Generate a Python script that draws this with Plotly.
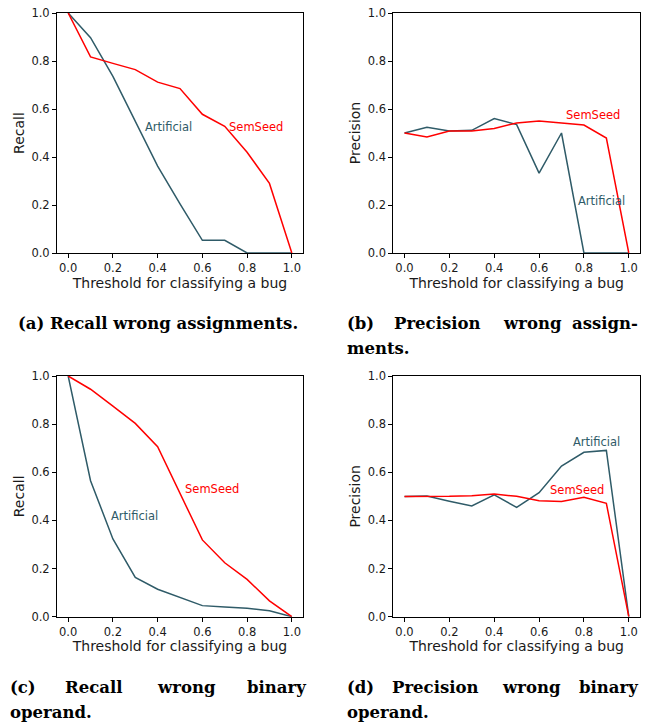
import plotly.graph_objects as go

thresholds = [0.0, 0.1, 0.2, 0.3, 0.4, 0.5, 0.6, 0.7, 0.8, 0.9, 1.0]

# (a) Recall wrong assignments
recall_assign_semseed = [1.0, 0.817, 0.790, 0.764, 0.712, 0.685, 0.578, 0.528, 0.420, 0.290, 0.0]
recall_assign_artificial = [1.0, 0.897, 0.736, 0.546, 0.362, 0.205, 0.053, 0.053, 0.0, 0.0, 0.0]

# (b) Precision wrong assignments
prec_assign_semseed = [0.500, 0.483, 0.508, 0.508, 0.519, 0.542, 0.550, 0.542, 0.533, 0.479, 0.0]
prec_assign_artificial = [0.500, 0.524, 0.508, 0.511, 0.560, 0.535, 0.333, 0.500, 0.0, 0.0, 0.0]

# (c) Recall wrong binary operand
recall_binop_semseed = [1.0, 0.945, 0.875, 0.803, 0.706, 0.512, 0.319, 0.224, 0.155, 0.066, 0.0]
recall_binop_artificial = [1.0, 0.565, 0.323, 0.163, 0.114, 0.080, 0.046, 0.040, 0.035, 0.025, 0.0]

# (d) Precision wrong binary operand
prec_binop_semseed = [0.499, 0.499, 0.500, 0.503, 0.510, 0.500, 0.482, 0.479, 0.496, 0.471, 0.0]
prec_binop_artificial = [0.499, 0.501, 0.480, 0.460, 0.506, 0.454, 0.515, 0.626, 0.683, 0.691, 0.0]

y_titles = ["Recall", "Precision", "Recall", "Precision"]
x_title = "Threshold for classifying a bug"
tick_vals = [0.0, 0.2, 0.4, 0.6, 0.8, 1.0]
tick_text = ["0.0", "0.2", "0.4", "0.6", "0.8", "1.0"]

# label positions (x, y) for each panel: (semseed, artificial)
label_pos = [
    ((0.842, 0.525), (0.45, 0.525)),
    ((0.842, 0.574), (0.877, 0.215)),
    ((0.641, 0.529), (0.296, 0.418)),
    ((0.771, 0.526), (0.857, 0.727)),
]

RED = "#ff0000"
SLATE = "#2f5b68"
FONT = "DejaVu Sans"
TXT = "#1a1a1a"

panels = [
    (recall_assign_semseed, recall_assign_artificial),
    (prec_assign_semseed, prec_assign_artificial),
    (recall_binop_semseed, recall_binop_artificial),
    (prec_binop_semseed, prec_binop_artificial),
]

W, H = 650, 725


def px_x(p):
    return p / W


def px_y(p):
    return 1 - p / H


# plot area page-pixel boxes (left, right, top, bottom)
boxes = [
    (57, 303, 13, 253),
    (393.3, 640, 13, 253),
    (57, 303, 376, 616.7),
    (393.3, 640, 376, 616.7),
]

fig = go.Figure()
annotations = []
layout = {}
for i, ((sem, art), box, ytitle, lp) in enumerate(zip(panels, boxes, y_titles, label_pos)):
    n = "" if i == 0 else str(i + 1)
    xa, ya = "x" + n, "y" + n
    fig.add_trace(go.Scatter(x=thresholds, y=art, mode="lines", xaxis=xa, yaxis=ya,
                             line=dict(color=SLATE, width=1.5), showlegend=False))
    fig.add_trace(go.Scatter(x=thresholds, y=sem, mode="lines", xaxis=xa, yaxis=ya,
                             line=dict(color=RED, width=1.5), showlegend=False))
    l, r, t, b = box
    common = dict(showline=True, mirror=True, linecolor="black", linewidth=1,
                  ticks="outside", ticklen=4, tickwidth=1, tickcolor="black",
                  showgrid=False, zeroline=False, automargin=False,
                  tickfont=dict(family=FONT, size=11.5, color=TXT),
                  tickvals=tick_vals, ticktext=tick_text)
    layout["xaxis" + n] = dict(domain=[px_x(l), px_x(r)], range=[-0.05, 1.05], anchor=ya,
                               title=dict(text=x_title, font=dict(family=FONT, size=14, color=TXT), standoff=3),
                               **common)
    layout["yaxis" + n] = dict(domain=[px_y(b), px_y(t)], range=[0, 1], anchor=xa,
                               title=dict(text=ytitle, font=dict(family=FONT, size=14, color=TXT), standoff=3),
                               **common)
    annotations.append(dict(x=lp[0][0], y=lp[0][1], xref=xa, yref=ya, text="SemSeed", showarrow=False,
                            font=dict(family=FONT, size=11.5, color=RED), xanchor="center", yanchor="middle"))
    annotations.append(dict(x=lp[1][0], y=lp[1][1], xref=xa, yref=ya, text="Artificial", showarrow=False,
                            font=dict(family=FONT, size=11.5, color=SLATE), xanchor="center", yanchor="middle"))

# captions: (word, page px x, center y px, anchor)
caption_words = [
    ("(a) Recall wrong assignments.", 16, 323, "left"),
    ("(b)", 345, 323, "left"),
    ("Precision", 392, 323, "left"),
    ("wrong", 501, 323, "left"),
    ("assign-", 640, 323, "right"),
    ("ments.", 345, 348, "left"),
    ("(c)", 8, 687, "left"),
    ("Recall", 63, 687, "left"),
    ("wrong", 155, 687, "left"),
    ("binary", 308, 687, "right"),
    ("operand.", 8, 712, "left"),
    ("(d)", 345, 687, "left"),
    ("Precision", 390, 687, "left"),
    ("wrong", 500, 687, "left"),
    ("binary", 640, 687, "right"),
    ("operand.", 345, 712, "left"),
]
for text, px, py, anc in caption_words:
    annotations.append(dict(x=px_x(px), y=px_y(py), xref="paper", yref="paper", text="<b>" + text + "</b>",
                            showarrow=False, xanchor=anc, yanchor="middle",
                            font=dict(family="DejaVu Serif", size=16.5, color="black")))

fig.update_layout(width=W, height=H, margin=dict(l=0, r=0, t=0, b=0),
                  paper_bgcolor="white", plot_bgcolor="white",
                  annotations=annotations, **layout)
fig.write_html("out.html", config={"displayModeBar": False},
               post_script="document.body.style.margin='0';")
